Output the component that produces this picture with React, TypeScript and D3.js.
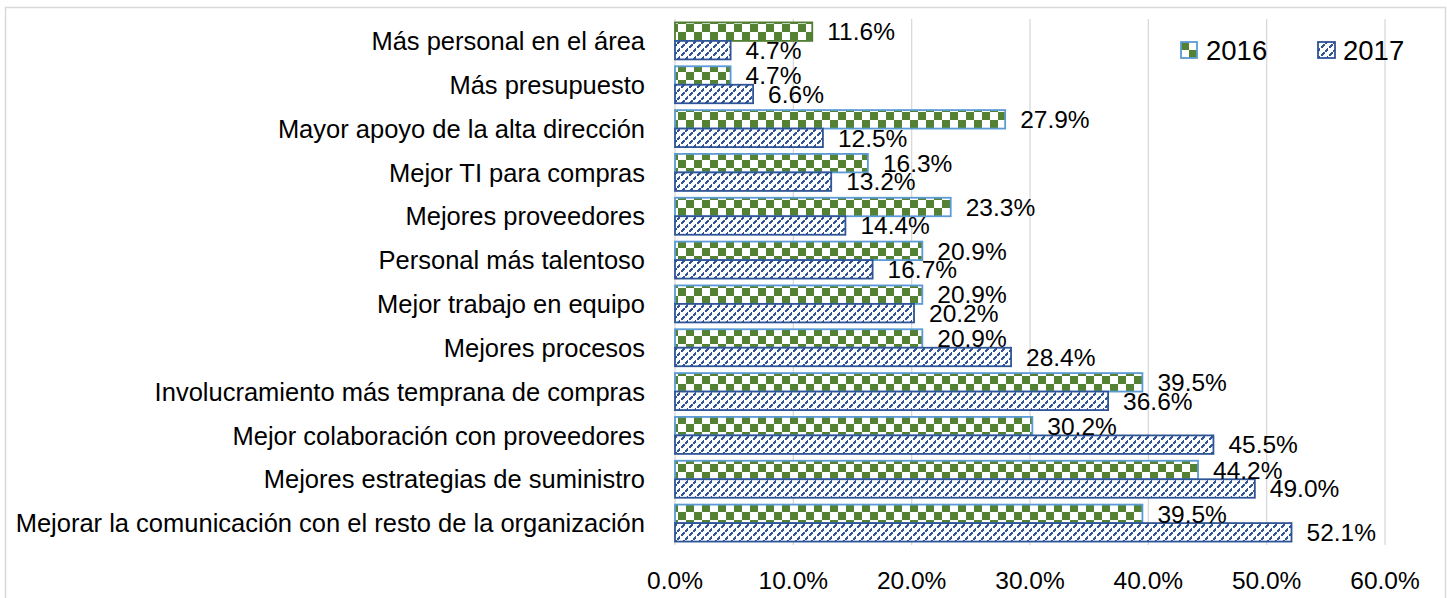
import React from "react";
import * as d3 from "d3";

const categories = [
  "Más personal en el área",
  "Más presupuesto",
  "Mayor apoyo de la alta dirección",
  "Mejor TI para compras",
  "Mejores proveedores",
  "Personal más talentoso",
  "Mejor trabajo en equipo",
  "Mejores procesos",
  "Involucramiento más temprana de compras",
  "Mejor colaboración con proveedores",
  "Mejores estrategias de suministro",
  "Mejorar la comunicación con el resto de la organización",
];
const values2016 = [11.6, 4.7, 27.9, 16.3, 23.3, 20.9, 20.9, 20.9, 39.5, 30.2, 44.2, 39.5];
const values2017 = [4.7, 6.6, 12.5, 13.2, 14.4, 16.7, 20.2, 28.4, 36.6, 45.5, 49.0, 52.1];
const seriesNames = ["2016", "2017"];
const xTicks = [0, 10, 20, 30, 40, 50, 60];

const W = 1447;
const H = 598;
const FONT = "'Liberation Sans', Arial, sans-serif";
const GREEN = "#548235";
const LIGHTBLUE = "#5B9BD5";
const DARKBLUE = "#2F5597";

export default function App() {
  const x = d3.scaleLinear().domain([0, 60]).range([675, 1385]);
  const y = d3
    .scaleBand<string>()
    .domain(categories)
    .range([19, 545])
    .paddingInner(0.156)
    .paddingOuter(0.078);
  const sub = d3.scaleBand<string>().domain(seriesNames).range([0, y.bandwidth()]);

  const hatchPixels: [number, number][] = [];
  for (let i = 0; i < 8; i++) {
    if (i % 4 !== 3) hatchPixels.push([7 - i, i]);
  }

  const rows = categories.map((c, i) => ({ c, v: [values2016[i], values2017[i]] }));

  return (
    <svg
      width={W}
      height={H}
      style={{ position: "fixed", left: 0, top: 0, background: "#fff" }}
      fontFamily={FONT}
    >
      <defs>
        <pattern id="checker" patternUnits="userSpaceOnUse" width={16} height={16} x={678} y={0}>
          <rect width={16} height={16} fill="#fff" />
          <rect x={0} y={0} width={8} height={8} fill={GREEN} />
          <rect x={8} y={8} width={8} height={8} fill={GREEN} />
        </pattern>
        <pattern id="checkerLegend" patternUnits="userSpaceOnUse" width={16} height={16} x={1181} y={42}>
          <rect width={16} height={16} fill="#fff" />
          <rect x={0} y={0} width={8} height={8} fill={GREEN} />
          <rect x={8} y={8} width={8} height={8} fill={GREEN} />
        </pattern>
        <pattern id="hatch" patternUnits="userSpaceOnUse" width={8} height={8}>
          <rect width={8} height={8} fill="#fff" />
          {hatchPixels.map(([px, py], k) => (
            <rect key={k} x={px} y={py} width={2} height={2} fill={DARKBLUE} />
          ))}
        </pattern>
      </defs>
      <rect x={0} y={0} width={W} height={H} fill="#fff" />
      <rect x={5.5} y={7.5} width={1440} height={600} fill="none" stroke="#D9D9D9" strokeWidth={1.5} />

      {/* gridlines */}
      {xTicks.map((t) => (
        <line
          key={t}
          x1={x(t)}
          x2={x(t)}
          y1={19}
          y2={545}
          stroke="#D9D9D9"
          strokeWidth={1.3}
        />
      ))}

      {/* bars */}
      {rows.map((r, i) => (
        <g key={r.c}>
          {seriesNames.map((s, j) => {
            const y0 = (y(r.c) as number) + (sub(s) as number);
            const h = sub.bandwidth();
            const stroke = j === 0 ? (i === 0 ? "#507E32" : LIGHTBLUE) : DARKBLUE;
            return (
              <rect
                key={s}
                x={x(0)}
                y={y0}
                width={x(r.v[j]) - x(0)}
                height={h}
                fill={j === 0 ? "url(#checker)" : "url(#hatch)"}
                stroke={stroke}
                strokeWidth={1.8}
              />
            );
          })}
        </g>
      ))}

      {/* data labels */}
      {rows.map((r) =>
        seriesNames.map((s, j) => {
          const cy = (y(r.c) as number) + (sub(s) as number) + sub.bandwidth() / 2;
          return (
            <text
              key={r.c + s}
              x={x(r.v[j]) + 15}
              y={cy}
              dy="0.36em"
              fontSize={24.5}
              fill="#000"
            >
              {r.v[j].toFixed(1) + "%"}
            </text>
          );
        })
      )}

      {/* category labels */}
      {categories.map((c) => (
        <text
          key={c}
          x={645}
          y={(y(c) as number) + y.bandwidth() / 2}
          dy="0.36em"
          textAnchor="end"
          fontSize={25.5}
          fill="#000"
        >
          {c}
        </text>
      ))}

      {/* x tick labels */}
      {xTicks.map((t) => (
        <text key={t} x={x(t)} y={580} dy="0.36em" textAnchor="middle" fontSize={24.5} fill="#000">
          {t.toFixed(1) + "%"}
        </text>
      ))}

      {/* legend */}
      <rect x={1181} y={42} width={16} height={16} fill="url(#checkerLegend)" stroke={LIGHTBLUE} strokeWidth={1.8} />
      <text x={1206} y={50} dy="0.36em" fontSize={27.5} fill="#000">
        2016
      </text>
      <rect x={1318} y={42} width={17} height={16} fill="url(#hatch)" stroke={DARKBLUE} strokeWidth={1.8} />
      <text x={1343} y={50} dy="0.36em" fontSize={27.5} fill="#000">
        2017
      </text>
    </svg>
  );
}
